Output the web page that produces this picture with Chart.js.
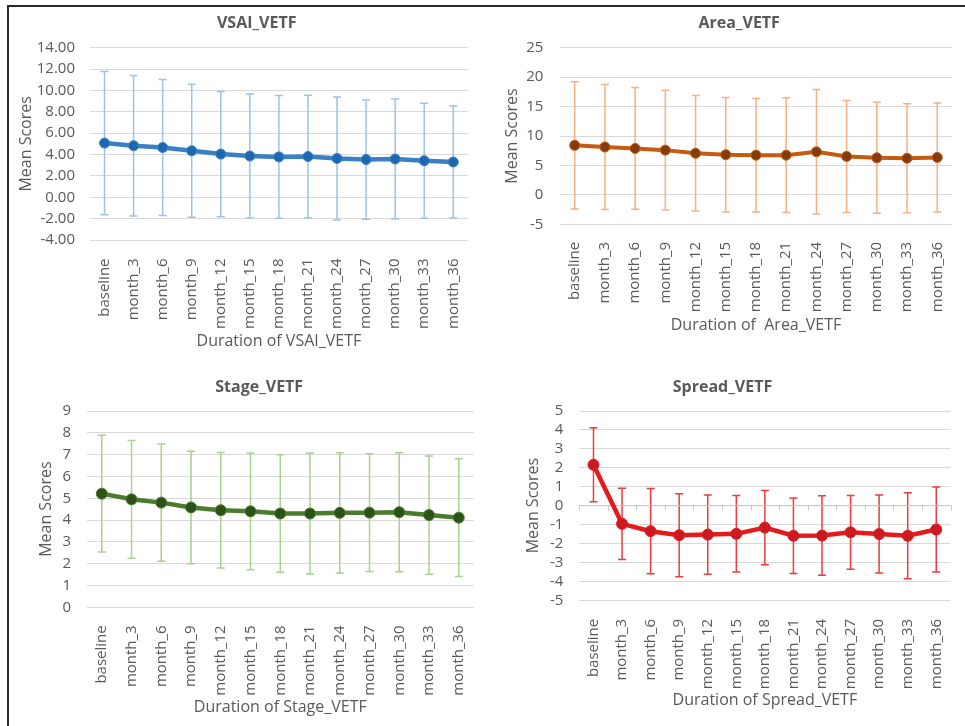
<!DOCTYPE html>
<html>
<head>
<meta charset="utf-8">
<title>VETF mean scores</title>
<script src="https://cdn.jsdelivr.net/npm/chart.js@4.4.1/dist/chart.umd.min.js"></script>
<style>
  body { margin: 0; background: #fff; }
  #page { position: relative; width: 965px; height: 726px; overflow: hidden; }
  #frame { position: absolute; left: 7px; top: 5px; width: 960px; height: 725px;
           border-top: 2px solid #2b2b2b; border-left: 2px solid #2b2b2b; }
  canvas { position: absolute; }
</style>
</head>
<body>
<div id="page">
  <div id="frame"></div>
  <canvas id="vsaiChart" width="473" height="353" style="left:9px;top:7px"></canvas>
  <canvas id="areaChart" width="483" height="353" style="left:482px;top:7px"></canvas>
  <canvas id="stageChart" width="478" height="366" style="left:9px;top:360px"></canvas>
  <canvas id="spreadChart" width="484" height="366" style="left:481px;top:360px"></canvas>
</div>
<script>
  // categorias (eje x)
  const months = ['baseline', 'month_3', 'month_6', 'month_9', 'month_12', 'month_15', 'month_18',
                  'month_21', 'month_24', 'month_27', 'month_30', 'month_33', 'month_36'];

  // medias y desviaciones
  const vsaiMean = [5.07, 4.82, 4.66, 4.35, 4.04, 3.86, 3.78, 3.81, 3.63, 3.53, 3.58, 3.42, 3.30];
  const vsaiSd   = [6.70, 6.57, 6.36, 6.23, 5.86, 5.80, 5.75, 5.75, 5.75, 5.58, 5.61, 5.38, 5.25];

  const areaMean = [8.41, 8.13, 7.88, 7.60, 7.06, 6.82, 6.74, 6.74, 7.31, 6.52, 6.29, 6.22, 6.36];
  const areaSd   = [10.80, 10.63, 10.34, 10.17, 9.80, 9.72, 9.63, 9.75, 10.57, 9.52, 9.43, 9.24, 9.26];

  const stageMean = [5.21, 4.95, 4.80, 4.58, 4.45, 4.40, 4.30, 4.30, 4.33, 4.34, 4.36, 4.23, 4.11];
  const stageSd   = [2.68, 2.70, 2.69, 2.58, 2.65, 2.68, 2.69, 2.77, 2.76, 2.70, 2.73, 2.71, 2.70];

  const spreadMean = [2.16, -0.96, -1.35, -1.56, -1.53, -1.49, -1.16, -1.59, -1.58, -1.41, -1.50, -1.59, -1.26];
  const spreadSd   = [1.96, 1.88, 2.25, 2.19, 2.09, 2.02, 1.96, 2.00, 2.10, 1.95, 2.06, 2.27, 2.25];

  Chart.defaults.font.family = "'Open Sans', sans-serif";
  Chart.defaults.color = '#595959';

  // barras de error (media +/- sd), se dibujan detras de la linea
  const errorBarPlugin = {
    id: 'errorBars',
    beforeDatasetsDraw(chart, args, opts) {
      const ds = chart.data.datasets[0];
      if (!ds.errorSd) return;
      const ctx = chart.ctx;
      const xs = chart.scales.x;
      const ys = chart.scales.y;
      ctx.save();
      ctx.strokeStyle = opts.color;
      ctx.lineWidth = opts.width;
      ds.data.forEach(function(v, i) {
        const px = xs.getPixelForValue(i);
        const top = ys.getPixelForValue(v + ds.errorSd[i]);
        const bottom = ys.getPixelForValue(v - ds.errorSd[i]);
        ctx.beginPath();
        ctx.moveTo(px, top); ctx.lineTo(px, bottom);
        ctx.moveTo(px - opts.cap, top); ctx.lineTo(px + opts.cap, top);
        ctx.moveTo(px - opts.cap, bottom); ctx.lineTo(px + opts.cap, bottom);
        ctx.stroke();
      });
      ctx.restore();
    }
  };

  // eje horizontal en cero con marcas entre categorias (solo Spread)
  const zeroTicksPlugin = {
    id: 'zeroTicks',
    beforeDatasetsDraw(chart, args, opts) {
      if (!opts.show) return;
      const ctx = chart.ctx;
      const xs = chart.scales.x;
      const ys = chart.scales.y;
      const y0 = ys.getPixelForValue(0);
      const half = (xs.getPixelForValue(1) - xs.getPixelForValue(0)) / 2;
      ctx.save();
      ctx.strokeStyle = '#c8c8c8';
      ctx.lineWidth = 1;
      ctx.beginPath();
      ctx.moveTo(chart.chartArea.left, y0);
      ctx.lineTo(chart.chartArea.right, y0);
      for (let i = 0; i <= months.length; i++) {
        const bx = Math.round(xs.getPixelForValue(i) - half) + 0.5;
        ctx.moveTo(bx, y0);
        ctx.lineTo(bx, y0 + 5);
      }
      ctx.stroke();
      ctx.restore();
    }
  };

  Chart.register(errorBarPlugin, zeroTicksPlugin);

  function makeChart(id, p) {
    const ctx = document.getElementById(id).getContext('2d');
    const yTicks = { stepSize: p.step, autoSkip: false, padding: p.yTickPad, font: { size: 15 } };
    if (p.decimals) {
      yTicks.callback = function(v) { return v.toFixed(p.decimals); };
    }
    return new Chart(ctx, {
      type: 'line',
      data: {
        labels: months,
        datasets: [{
          data: p.mean,
          errorSd: p.sd,
          borderColor: p.line,
          borderWidth: p.lineWidth,
          pointBackgroundColor: p.marker,
          pointBorderColor: p.line,
          pointBorderWidth: 1,
          pointRadius: p.radius,
          tension: 0
        }]
      },
      options: {
        responsive: false,
        animation: false,
        layout: { padding: { left: p.padLeft, right: p.padRight, top: 0, bottom: 0 } },
        plugins: {
          legend: { display: false },
          tooltip: { enabled: false },
          title: {
            display: true,
            text: p.title,
            color: '#595959',
            font: { size: 16, weight: 'bold' },
            padding: { top: p.titleTop, bottom: p.titleBottom }
          },
          errorBars: { color: p.errColor, cap: 4, width: 1.5 },
          zeroTicks: { show: !!p.zeroTicks }
        },
        scales: {
          x: {
            offset: true,
            grid: { display: false },
            border: { display: false },
            ticks: { autoSkip: false, minRotation: 90, maxRotation: 90, padding: p.xTickPad, font: { size: 15 } },
            title: { display: true, text: p.xTitle, font: { size: 16 }, padding: { top: 0, bottom: p.xTitleBottom } },
            afterFit: function(scale) { scale.height = p.xHeight; }
          },
          y: {
            min: p.min,
            max: p.max,
            grid: { color: '#d9d9d9', drawTicks: false },
            border: { display: false },
            ticks: yTicks,
            title: { display: true, text: 'Mean Scores', font: { size: 16 }, padding: { top: p.yTitlePad, bottom: 0 } },
            afterFit: function(scale) { scale.width = p.yWidth; }
          }
        }
      }
    });
  }

  makeChart('vsaiChart', {
    title: 'VSAI_VETF', xTitle: 'Duration of VSAI_VETF',
    mean: vsaiMean, sd: vsaiSd, min: -4, max: 14, step: 2, decimals: 2,
    line: '#3a80c4', marker: '#1c68b1', errColor: '#9dc3e6', lineWidth: 4.5, radius: 5,
    padLeft: 22.4, padRight: 0, yWidth: 58.6, yTitlePad: -15, yTickPad: 15,
    titleTop: 6.4, titleBottom: 15.1, xHeight: 120, xTitleBottom: 9.4, xTickPad: 10.5
  });

  makeChart('areaChart', {
    title: 'Area_VETF', xTitle: 'Duration of  Area_VETF',
    mean: areaMean, sd: areaSd, min: -5, max: 25, step: 5,
    line: '#c55a11', marker: '#843c0c', errColor: '#f4b183', lineWidth: 4, radius: 5,
    padLeft: 36.7, padRight: 5.3, yWidth: 40.9, yTitlePad: -15.8, yTickPad: 16.3,
    titleTop: 6.4, titleBottom: 15.1, xHeight: 135.7, xTitleBottom: 24.9, xTickPad: 9.5
  });

  makeChart('stageChart', {
    title: 'Stage_VETF', xTitle: 'Duration of Stage_VETF',
    mean: stageMean, sd: stageSd, min: 0, max: 9, step: 1,
    line: '#4a7c2c', marker: '#2d5219', errColor: '#a9d18e', lineWidth: 4.5, radius: 5.5,
    padLeft: 22.4, padRight: 0, yWidth: 55.5, yTitlePad: 5, yTickPad: 15.9,
    titleTop: 17.4, titleBottom: 14.4, xHeight: 118.7, xTitleBottom: 8.6, xTickPad: 10
  });

  makeChart('spreadChart', {
    title: 'Spread_VETF', xTitle: 'Duration of Spread_VETF',
    mean: spreadMean, sd: spreadSd, min: -5, max: 5, step: 1, zeroTicks: true,
    line: '#e41a1c', marker: '#cc1a22', errColor: '#ef3b3b', lineWidth: 4.5, radius: 5.5,
    padLeft: 0, padRight: 1, yWidth: 98.2, yTitlePad: 42.7, yTickPad: 15.9,
    titleTop: 17.4, titleBottom: 14.4, xHeight: 125.7, xTitleBottom: 15.9, xTickPad: 10.5
  });
</script>
</body>
</html>
